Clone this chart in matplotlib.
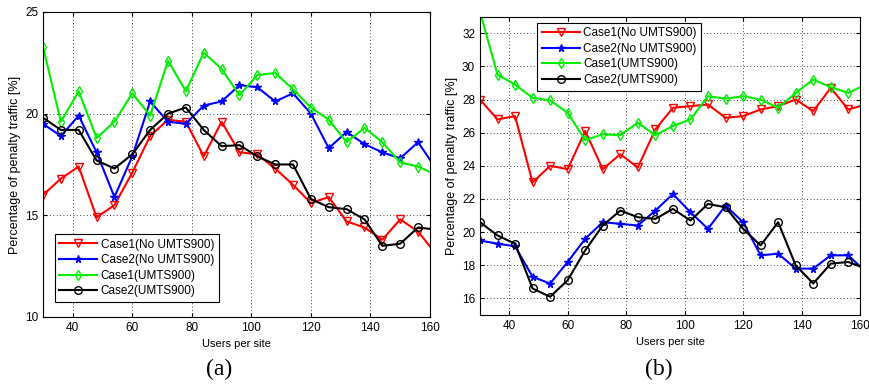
import numpy as np
import matplotlib
matplotlib.use("Agg")
import matplotlib.pyplot as plt

# users per site (last point lies just past the axis limit)
users = list(range(30, 163, 6))

# (a) percentage of penalty traffic
a_case1_no = [16.0, 16.8, 17.4, 14.9, 15.5, 17.1, 18.9, 19.7, 19.6, 17.9, 19.6, 18.1,
              18.0, 17.3, 16.5, 15.6, 15.9, 14.7, 14.4, 13.8, 14.8, 14.2, 13.1]
a_case2_no = [19.5, 18.9, 19.9, 18.1, 15.9, 17.9, 20.6, 19.6, 19.5, 20.4, 20.6, 21.4,
              21.3, 20.6, 21.0, 20.0, 18.3, 19.1, 18.5, 18.1, 17.8, 18.6, 17.3]
a_case1_umts = [23.3, 19.6, 21.1, 18.8, 19.6, 21.0, 19.9, 22.6, 21.1, 23.0, 22.2, 20.9,
                21.9, 22.0, 21.2, 20.3, 19.7, 18.6, 19.3, 18.6, 17.6, 17.4, 17.0]
a_case2_umts = [19.8, 19.2, 19.2, 17.7, 17.3, 18.0, 19.2, 20.0, 20.3, 19.2, 18.4, 18.45,
                17.9, 17.5, 17.5, 15.8, 15.4, 15.3, 14.8, 13.5, 13.6, 14.4, 14.3]

# (b) percentage of penalty traffic
b_case1_no = [28.0, 26.8, 27.0, 23.0, 24.0, 23.8, 26.1, 23.8, 24.7, 23.9, 26.2, 27.5,
              27.6, 27.7, 26.9, 27.0, 27.4, 27.6, 28.0, 27.3, 28.7, 27.4, 27.7]
b_case2_no = [19.5, 19.3, 19.15, 17.3, 16.9, 18.2, 19.6, 20.6, 20.5, 20.4, 21.3, 22.3,
              21.2, 20.2, 21.6, 20.6, 18.6, 18.7, 17.8, 17.8, 18.6, 18.6, 17.6]
b_case1_umts = [33.3, 29.5, 28.9, 28.1, 27.95, 27.2, 25.55, 25.9, 25.85, 26.6, 25.85, 26.4,
                26.8, 28.2, 28.05, 28.2, 28.0, 27.5, 28.4, 29.2, 28.75, 28.4, 28.9]
b_case2_umts = [20.6, 19.8, 19.3, 16.6, 16.1, 17.1, 18.9, 20.4, 21.3, 20.9, 20.8, 21.4,
                20.7, 21.7, 21.5, 20.2, 19.2, 20.6, 18.0, 16.9, 18.1, 18.2, 17.8]

labels = ["Case1(No UMTS900)", "Case2(No UMTS900)", "Case1(UMTS900)", "Case2(UMTS900)"]
colors = ["#ff0000", "#0000ff", "#00ee00", "#000000"]
markers = ["v", "*", "d", "o"]
msizes = [6, 5.5, 5.5, 5.5]

plt.rcParams['font.family'] = ['Liberation Sans', 'DejaVu Sans']

fig = plt.figure(figsize=(8.7, 3.87), dpi=100)
ax1 = fig.add_axes([0.0494, 0.181, 0.4448, 0.788])
ax2 = fig.add_axes([0.5517, 0.186, 0.4368, 0.771])


def draw(ax, series, ylim, yticks, legend_loc):
    for vals, lab, col, mk, ms in zip(series, labels, colors, markers, msizes):
        filled = mk == "*"
        ax.plot(users, vals, color=col, marker=mk, markersize=ms,
                markerfacecolor=col if filled else "none", markeredgecolor=col,
                markeredgewidth=1.0, linewidth=1.5, label=lab)
    ax.set_xlim(30, 160)
    ax.set_ylim(*ylim)
    ax.set_xticks(range(40, 161, 20))
    ax.set_yticks(yticks)
    ax.tick_params(direction="in", labelsize=8.5, length=3, top=True, right=True)
    ax.grid(True, color="black", linestyle=(0, (1, 3)), linewidth=0.6)
    ax.set_xlabel("Users per site", fontsize=8)
    ax.set_ylabel("Percentage of penalty traffic [%]", fontsize=9, labelpad=3)
    leg = ax.legend(fontsize=8.5, handlelength=3.2, labelspacing=0.3, borderpad=0.4,
                    handletextpad=0.3, fancybox=False, framealpha=1, edgecolor="black",
                    **legend_loc)
    leg.get_frame().set_linewidth(0.8)


draw(ax1, [a_case1_no, a_case2_no, a_case1_umts, a_case2_umts], (10, 25), [10, 15, 20, 25],
     dict(loc="lower left", bbox_to_anchor=(0.015, 0.03)))
draw(ax2, [b_case1_no, b_case2_no, b_case1_umts, b_case2_umts], (15, 33), range(16, 33, 2),
     dict(loc="upper left", bbox_to_anchor=(0.135, 1.0)))

fig.text(0.252, 0.03, "(a)", fontsize=17, family="Liberation Serif", ha="center")
fig.text(0.757, 0.03, "(b)", fontsize=17, family="Liberation Serif", ha="center")

fig.savefig("out.png", dpi=100)
